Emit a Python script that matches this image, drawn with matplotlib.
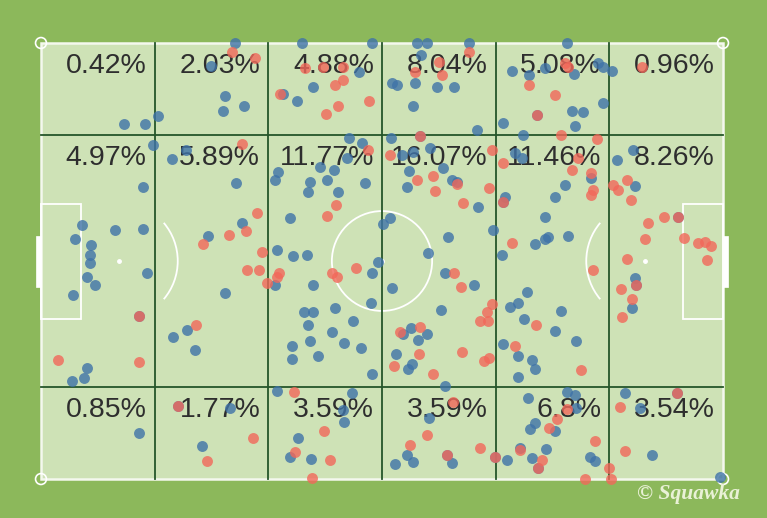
import numpy as np
import matplotlib.pyplot as plt
from matplotlib.patches import Rectangle, Ellipse, Arc

# zone shares (rows: top, middle, bottom; columns: own goal -> opposition goal)
zone_pct = [
    [0.42, 2.03, 4.88, 8.04, 5.08, 0.96],
    [4.97, 5.89, 11.77, 16.07, 11.46, 8.26],
    [0.85, 1.77, 3.59, 3.59, 6.8, 3.54],
]

# event locations, pitch coords 0-100 (x along pitch, y from top touchline)
blue = np.array([
    (28.4, 0.1), (24.9, 5.2), (27.0, 12.1), (26.7, 15.6), (29.7, 14.4), (12.2, 18.6), (15.2, 18.6), (17.2, 16.7),
    (16.4, 23.4), (19.2, 26.6), (21.2, 24.5), (15.0, 33.1), (28.6, 32.2), (6.0, 41.7), (5.0, 45.0), (10.9, 42.9),
    (14.9, 42.7), (7.4, 46.3), (7.2, 48.6), (7.2, 50.5), (6.7, 53.6), (7.9, 55.5), (4.7, 57.8), (15.5, 52.8),
    (24.5, 44.3), (29.4, 41.2), (27.0, 57.3), (19.3, 67.4), (21.4, 65.8), (22.6, 70.4), (6.8, 74.6), (6.3, 76.8),
    (4.5, 77.5), (14.4, 89.5), (23.6, 92.4), (27.7, 83.6),
    (38.3, 0.1), (48.6, 0.1), (55.1, 0.1), (56.6, 0.1), (62.8, 0.1), (39.9, 10.0), (37.5, 13.3), (46.7, 6.6),
    (51.5, 9.2), (52.2, 9.6), (54.8, 9.1), (58.0, 10.2), (60.5, 10.2), (54.5, 14.4), (35.5, 11.7), (63.9, 20.0),
    (55.7, 2.8),
    (45.1, 21.9), (47.0, 23.0), (51.3, 21.7), (40.9, 28.4), (42.9, 29.1), (44.8, 26.4), (34.8, 29.5), (34.3, 31.4),
    (39.4, 31.8), (41.9, 31.4), (39.2, 34.1), (43.5, 34.2), (47.5, 32.2), (36.5, 40.2), (51.2, 40.2), (50.2, 41.4),
    (34.6, 47.5), (37.0, 48.8), (39.0, 48.6), (57.0, 24.0), (53.9, 29.4), (53.6, 33.0), (59.0, 28.6), (60.2, 31.4),
    (64.1, 37.7), (59.7, 44.4), (56.8, 48.2), (66.3, 42.9), (52.9, 25.7), (54.6, 24.9), (68.0, 35.3), (61.0, 31.8),
    (49.4, 50.2), (48.6, 52.8), (39.9, 55.5), (34.3, 55.5), (51.5, 56.3), (38.5, 61.6), (39.9, 61.6), (43.1, 60.8),
    (48.4, 59.7), (39.1, 64.7), (45.7, 63.7), (42.6, 66.2), (36.8, 69.4), (39.4, 68.3), (44.4, 68.9), (46.9, 70.0),
    (36.8, 72.5), (40.6, 71.7), (48.6, 75.9), (58.6, 61.2), (59.2, 52.8), (63.5, 55.5), (54.2, 65.4), (53.1, 66.8),
    (55.3, 68.1), (56.6, 66.7), (52.0, 71.4), (54.4, 73.7), (53.8, 74.8),
    (34.6, 79.8), (45.6, 80.3), (44.3, 84.2), (44.5, 86.9), (37.7, 90.7), (36.5, 94.9), (39.6, 95.3), (59.2, 78.7),
    (56.9, 85.9), (53.7, 94.5), (51.9, 96.6), (54.6, 96.2), (60.2, 96.4),
    (77.1, 0.1), (69.0, 6.4), (71.5, 7.3), (73.9, 5.8), (78.1, 7.2), (81.7, 4.7), (82.4, 5.4), (83.7, 6.4),
    (82.4, 13.8), (77.8, 15.6), (79.4, 15.9), (78.3, 19.0), (70.7, 21.1), (67.8, 18.4),
    (69.5, 25.3), (70.5, 26.4), (84.4, 26.8), (86.8, 24.5), (87.1, 32.8), (76.8, 32.6), (75.4, 35.4), (80.7, 31.0),
    (73.9, 39.8), (77.3, 44.3), (74.4, 44.4), (73.9, 45.0), (72.4, 46.2), (67.6, 48.6),
    (71.3, 57.2), (68.8, 60.6), (70.0, 59.7), (70.8, 63.4), (76.3, 61.5), (75.4, 66.0), (78.5, 68.3), (67.8, 69.1),
    (70.0, 71.8), (72.0, 72.7), (72.4, 74.8), (70.0, 76.5), (87.1, 54.0), (86.6, 60.8),
    (77.1, 80.1), (78.3, 80.7), (71.4, 81.4), (72.4, 87.2), (71.7, 88.5), (75.4, 89.0), (74.0, 93.1), (70.2, 92.8),
    (72.0, 95.1), (68.4, 95.6), (80.5, 94.9), (81.2, 95.8), (85.6, 80.2), (87.9, 83.8), (89.6, 94.5), (99.6, 99.5),
    (78.5, 83.8),
    (14.3, 62.6), (20.1, 83.2), (55.6, 21.3), (72.7, 16.4), (93.4, 39.8), (87.3, 55.5), (93.2, 80.3), (72.8, 97.5),
    (59.5, 94.5), (66.5, 94.9), (67.7, 36.4),
])

red = np.array([
    (28.0, 2.0), (31.4, 3.5), (29.5, 23.2), (31.6, 39.1), (27.5, 44.0), (23.8, 46.2), (30.0, 43.1), (32.4, 47.9),
    (30.2, 52.1), (32.0, 52.1), (33.1, 55.1), (22.8, 64.7), (14.3, 62.6), (14.4, 73.1), (2.5, 72.7), (20.1, 83.2),
    (31.1, 90.7), (24.3, 95.9),
    (35.0, 11.8), (38.7, 5.8), (41.4, 5.4), (44.3, 5.4), (43.1, 9.6), (44.3, 8.5), (48.1, 13.2), (43.6, 14.4),
    (41.8, 16.3), (54.8, 6.6), (58.8, 7.3), (58.3, 4.3), (62.7, 2.0),
    (55.6, 21.3), (48.0, 24.5), (51.2, 25.8), (55.1, 31.4), (57.5, 30.4), (57.8, 33.9), (61.9, 36.8), (65.7, 33.2),
    (66.2, 24.5), (43.3, 37.2), (41.9, 39.6), (61.0, 32.3), (67.8, 27.6), (67.7, 36.4),
    (34.6, 53.6), (34.9, 52.8), (42.6, 52.8), (43.4, 53.6), (46.2, 51.7), (60.5, 52.8), (61.6, 55.9), (66.2, 59.9),
    (65.4, 61.6), (64.4, 63.8), (65.6, 63.8), (55.6, 65.1), (52.6, 66.2), (55.4, 71.4), (51.7, 74.0), (61.8, 70.9),
    (57.5, 76.0), (64.9, 72.9), (65.7, 72.2),
    (37.1, 80.1), (41.5, 89.1), (37.2, 93.7), (42.4, 95.6), (39.8, 99.7), (60.4, 82.3), (56.6, 89.9), (54.1, 92.2),
    (59.5, 94.5), (64.4, 93.0), (66.5, 94.9),
    (71.5, 9.6), (75.3, 11.9), (72.7, 16.4), (76.8, 4.7), (77.3, 5.4), (88.1, 5.4), (76.3, 21.1),
    (81.5, 22.0), (78.8, 26.3), (77.9, 29.1), (80.7, 29.9), (81.0, 33.7), (80.7, 34.9), (83.9, 32.6), (84.6, 33.7),
    (85.9, 31.4), (86.5, 36.0), (89.0, 41.2), (91.4, 39.8), (93.4, 39.8), (88.6, 45.0), (94.3, 44.8), (96.4, 45.9),
    (97.4, 45.6), (98.3, 46.6), (69.1, 45.9), (85.9, 49.5), (97.6, 49.8), (81.0, 52.1), (87.3, 55.5), (85.1, 56.4),
    (86.7, 58.6), (85.2, 62.8), (72.6, 64.7), (69.5, 69.4), (79.2, 75.0),
    (93.2, 80.3), (84.9, 83.4), (77.1, 83.9), (75.6, 86.3), (74.5, 88.4), (81.2, 91.3), (85.6, 93.5), (70.2, 93.3),
    (73.4, 95.6), (72.8, 97.5), (83.3, 97.5), (79.8, 100.0), (83.6, 100.0),
])

col_edges = np.linspace(0, 100, 7)
row_edges = [0, 21.1, 78.9, 100]

fig = plt.figure(figsize=(7.67, 5.18), dpi=100)
fig.patch.set_facecolor('#8cb85b')
ax = fig.add_axes([0, 0, 1, 1])
ax.set_facecolor('#8cb85b')
ax.set_xlim(-6.01, 106.45)
ax.set_ylim(108.94, -9.86)
ax.axis('off')

# pitch
ax.add_patch(Rectangle((0, 0), 100, 100, fc='#cee2b6', ec='#f4f8ee', lw=1.8, zorder=1))
lw = 1.3
ax.add_patch(Rectangle((0, 36.9), 5.9, 26.4, fill=False, ec='white', lw=lw, zorder=1.5))
ax.add_patch(Rectangle((94.1, 36.9), 5.9, 26.4, fill=False, ec='white', lw=lw, zorder=1.5))
ax.add_patch(Rectangle((-0.75, 44.3), 0.75, 11.7, fc='white', ec='white', lw=0.5, zorder=1.5))
ax.add_patch(Rectangle((100, 44.3), 0.75, 11.7, fc='white', ec='white', lw=0.5, zorder=1.5))
ax.add_patch(Ellipse((50, 50), 14.7, 22.9, fill=False, ec='white', lw=lw, zorder=1.5))
ax.add_patch(Arc((11.4, 50), 17.3, 27.1, theta1=-53, theta2=53, ec='white', lw=lw, zorder=1.5))
ax.add_patch(Arc((88.6, 50), 17.3, 27.1, theta1=127, theta2=233, ec='white', lw=lw, zorder=1.5))
ax.plot([11.4, 88.6, 50], [50, 50, 50], 'o', color='white', ms=2.5, zorder=1.5)
for cx in [0, 100]:
    for cy in [0, 100]:
        ax.add_patch(Ellipse((cx, cy), 1.6, 2.5, fill=False, ec='white', lw=1.2, zorder=1.6))

# zone grid
for x in col_edges[1:-1]:
    ax.plot([x, x], [0, 100], color='#25562a', lw=1.3, zorder=2)
for y in row_edges[1:-1]:
    ax.plot([0, 100], [y, y], color='#25562a', lw=1.3, zorder=2)

for i, row in enumerate(zone_pct):
    for j, v in enumerate(row):
        ax.text(col_edges[j + 1] - 1.2, row_edges[i] + 6.8, f'{v:g}%', ha='right', va='baseline',
                fontsize=20.5, family='Liberation Sans', color='#2e2e2e', zorder=2.5)

ax.scatter(blue[:, 0], blue[:, 1], s=62, color='#3f73a8', alpha=0.8, lw=0, zorder=3)
ax.scatter(red[:, 0], red[:, 1], s=62, color='#f2685a', alpha=0.8, lw=0, zorder=3.1)

fig.text(0.898, 0.046, '\u00a9 Squawka', color='#e9f1d6', fontsize=15.5, style='italic',
         weight='bold', family='Liberation Serif', ha='center', va='center')

fig.savefig('out.png', dpi=100)
